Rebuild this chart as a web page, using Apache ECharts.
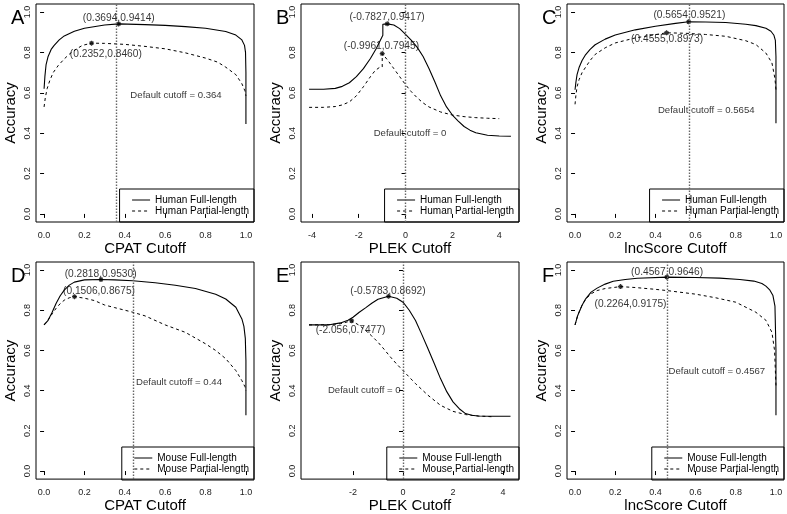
<!DOCTYPE html>
<html><head><meta charset="utf-8">
<script src="https://cdn.jsdelivr.net/npm/echarts@6/dist/echarts.min.js"></script>
<style>html,body{margin:0;padding:0;background:#fff}#c{width:787px;height:514px}</style>
</head><body><div id="c"></div>
<script>
// ---------- DATA ----------
// A: CPAT, human
const cpatHumanFullX = [0, 0.004, 0.01, 0.02, 0.035, 0.05, 0.075, 0.1, 0.15, 0.2, 0.3, 0.3694, 0.5, 0.6, 0.7, 0.8, 0.9, 0.95, 0.98, 0.993, 0.998, 1.0, 1.0];
const cpatHumanFullY = [0.62, 0.68, 0.74, 0.78, 0.815, 0.835, 0.862, 0.882, 0.905, 0.92, 0.936, 0.9414, 0.938, 0.934, 0.928, 0.92, 0.904, 0.886, 0.862, 0.835, 0.80, 0.70, 0.446];
const cpatHumanPartX = [0, 0.006, 0.015, 0.028, 0.045, 0.07, 0.1, 0.127, 0.16, 0.19, 0.2352, 0.3, 0.4, 0.5, 0.6, 0.7, 0.8, 0.86, 0.9, 0.95, 0.98, 0.995, 1.0];
const cpatHumanPartY = [0.53, 0.575, 0.62, 0.66, 0.70, 0.735, 0.768, 0.793, 0.817, 0.835, 0.846, 0.845, 0.84, 0.83, 0.818, 0.798, 0.772, 0.752, 0.727, 0.69, 0.645, 0.61, 0.585];
// B: PLEK, human
const plekHumanFullX = [-4.12, -3.5, -3.0, -2.7, -2.4, -2.1, -1.8, -1.5, -1.25, -0.97, -0.97, -0.7827, -0.5, -0.25, 0, 0.25, 0.5, 0.75, 1.0, 1.25, 1.5, 1.75, 2.0, 2.25, 2.5, 2.75, 3.0, 3.5, 4.0, 4.5];
const plekHumanFullY = [0.618, 0.618, 0.622, 0.632, 0.65, 0.68, 0.72, 0.77, 0.82, 0.885, 0.94, 0.9417, 0.936, 0.918, 0.89, 0.86, 0.825, 0.78, 0.72, 0.655, 0.585, 0.53, 0.49, 0.46, 0.433, 0.415, 0.402, 0.39, 0.386, 0.385];
const plekHumanPartX = [-4.12, -3.5, -3.0, -2.7, -2.4, -2.1, -1.8, -1.5, -1.3, -1.1, -0.9961, -0.9961, -0.75, -0.5, -0.25, 0, 0.25, 0.5, 0.75, 1.0, 1.5, 2.0, 2.5, 3.0, 3.5, 4.0];
const plekHumanPartY = [0.528, 0.528, 0.532, 0.54, 0.555, 0.585, 0.63, 0.68, 0.71, 0.727, 0.728, 0.7945, 0.76, 0.72, 0.68, 0.64, 0.605, 0.575, 0.55, 0.53, 0.505, 0.49, 0.482, 0.477, 0.474, 0.472];
// C: lncScore, human
const lncHumanFullX = [0, 0.004, 0.01, 0.02, 0.035, 0.05, 0.075, 0.1, 0.15, 0.2, 0.3, 0.4, 0.5, 0.5654, 0.65, 0.75, 0.85, 0.9, 0.95, 0.975, 0.99, 0.997, 1.0, 1.0];
const lncHumanFullY = [0.615, 0.65, 0.69, 0.725, 0.76, 0.785, 0.815, 0.838, 0.866, 0.886, 0.912, 0.93, 0.944, 0.9521, 0.951, 0.948, 0.94, 0.933, 0.92, 0.905, 0.885, 0.86, 0.78, 0.449];
const lncHumanPartX = [0, 0.004, 0.01, 0.02, 0.035, 0.05, 0.075, 0.1, 0.15, 0.2, 0.3, 0.4555, 0.55, 0.65, 0.75, 0.85, 0.9, 0.95, 0.98, 0.995, 1.0];
const lncHumanPartY = [0.543, 0.585, 0.63, 0.665, 0.70, 0.723, 0.76, 0.79, 0.823, 0.847, 0.872, 0.8973, 0.895, 0.889, 0.88, 0.858, 0.839, 0.797, 0.748, 0.67, 0.615];
// D: CPAT, mouse
const cpatMouseFullX = [0, 0.02, 0.04, 0.06, 0.08, 0.1, 0.125, 0.15, 0.2, 0.2818, 0.35, 0.44, 0.55, 0.65, 0.75, 0.85, 0.9, 0.95, 0.98, 0.99, 0.997, 1.0, 1.0];
const cpatMouseFullY = [0.727, 0.75, 0.79, 0.835, 0.872, 0.9, 0.925, 0.94, 0.951, 0.953, 0.951, 0.947, 0.937, 0.924, 0.908, 0.88, 0.856, 0.815, 0.757, 0.72, 0.66, 0.55, 0.278];
const cpatMousePartX = [0, 0.02, 0.04, 0.06, 0.08, 0.1, 0.125, 0.1506, 0.2, 0.25, 0.3, 0.35, 0.44, 0.5, 0.6, 0.7, 0.8, 0.85, 0.9, 0.95, 0.98, 0.995, 1.0];
const cpatMousePartY = [0.727, 0.752, 0.782, 0.81, 0.833, 0.85, 0.862, 0.8675, 0.86, 0.848, 0.826, 0.813, 0.79, 0.772, 0.727, 0.69, 0.633, 0.60, 0.559, 0.50, 0.45, 0.42, 0.40];
// E: PLEK, mouse
const plekMouseFullX = [-3.76, -3.0, -2.5, -2.2, -2.0, -1.75, -1.5, -1.25, -1.0, -0.5783, -0.25, 0, 0.25, 0.5, 0.75, 1.0, 1.25, 1.5, 1.75, 2.0, 2.25, 2.5, 2.75, 3.0, 3.5, 4.3];
const plekMouseFullY = [0.727, 0.727, 0.737, 0.75, 0.765, 0.79, 0.812, 0.835, 0.855, 0.8692, 0.86, 0.84, 0.80, 0.749, 0.68, 0.608, 0.535, 0.46, 0.395, 0.344, 0.31, 0.286, 0.278, 0.274, 0.273, 0.273];
const plekMousePartX = [-3.76, -3.0, -2.5, -2.056, -1.75, -1.5, -1.25, -1.0, -0.75, -0.5, -0.25, 0, 0.5, 1.0, 1.5, 2.0, 2.5, 3.0, 3.6];
const plekMousePartY = [0.727, 0.728, 0.733, 0.7477, 0.725, 0.70, 0.672, 0.641, 0.605, 0.567, 0.532, 0.50, 0.435, 0.377, 0.327, 0.297, 0.281, 0.274, 0.27];
// F: lncScore, mouse
const lncMouseFullX = [0, 0.005, 0.012, 0.02, 0.035, 0.053, 0.08, 0.11, 0.15, 0.19, 0.25, 0.31, 0.4567, 0.6, 0.72, 0.82, 0.89, 0.93, 0.95, 0.97, 0.985, 0.995, 1.0, 1.0];
const lncMouseFullY = [0.727, 0.745, 0.77, 0.79, 0.825, 0.857, 0.89, 0.91, 0.93, 0.944, 0.953, 0.959, 0.9646, 0.963, 0.96, 0.953, 0.945, 0.933, 0.92, 0.9, 0.873, 0.82, 0.6, 0.278];
const lncMousePartX = [0, 0.005, 0.012, 0.02, 0.035, 0.053, 0.08, 0.11, 0.15, 0.2264, 0.3, 0.4, 0.4567, 0.6, 0.7, 0.8, 0.9, 0.95, 0.98, 0.993, 1.0];
const lncMousePartY = [0.727, 0.745, 0.77, 0.79, 0.825, 0.855, 0.882, 0.898, 0.908, 0.9175, 0.913, 0.904, 0.898, 0.88, 0.862, 0.84, 0.79, 0.75, 0.69, 0.60, 0.426];

// peaks [x, y] and their labels
const peaksFull = [[0.3694, 0.9414], [-0.7827, 0.9417], [0.5654, 0.9521], [0.2818, 0.9530], [-0.5783, 0.8692], [0.4567, 0.9646]];
const peaksPart = [[0.2352, 0.8460], [-0.9961, 0.7945], [0.4555, 0.8973], [0.1506, 0.8675], [-2.056, 0.7477], [0.2264, 0.9175]];
const peakLabelsFull = ['(0.3694,0.9414)', '(-0.7827,0.9417)', '(0.5654,0.9521)', '(0.2818,0.9530)', '(-0.5783,0.8692)', '(0.4567,0.9646)'];
const peakLabelsPart = ['(0.2352,0.8460)', '(-0.9961,0.7945)', '(0.4555,0.8973)', '(0.1506,0.8675)', '(-2.056,0.7477)', '(0.2264,0.9175)'];
const defaultCutoffs = [0.364, 0, 0.5654, 0.44, 0, 0.4567];
const cutoffLabels = ['Default cutoff = 0.364', 'Default cutoff = 0', 'Default cutoff = 0.5654', 'Default cutoff = 0.44', 'Default cutoff = 0', 'Default cutoff = 0.4567'];
const panelLetters = ['A', 'B', 'C', 'D', 'E', 'F'];
const xTitles = ['CPAT Cutoff', 'PLEK Cutoff', 'lncScore Cutoff', 'CPAT Cutoff', 'PLEK Cutoff', 'lncScore Cutoff'];
const seriesNamesFull = ['Human Full-length', 'Human Full-length', 'Human Full-length', 'Mouse Full-length', 'Mouse Full-length', 'Mouse Full-length'];
const seriesNamesPart = ['Human Partial-length', 'Human Partial-length', 'Human Partial-length', 'Mouse Partial-length', 'Mouse Partial-length', 'Mouse Partial-length'];
const yTicks = [0, 0.2, 0.4, 0.6, 0.8, 1.0];
const unitTicks = [0, 0.2, 0.4, 0.6, 0.8, 1.0];
const plekTicksB = [-4, -2, 0, 2, 4];
const plekTicksE = [-2, 0, 2, 4];

// ---------- LAYOUT ----------
const FONT = '"Liberation Sans", Arial, sans-serif';
const W = 787, H = 514;
const boxes = [[36, 4, 218, 218], [301, 4, 218, 218], [567, 4, 217, 218], [36, 262, 218, 218], [301, 262, 218, 218], [567, 262, 217, 218]];
const xRanges = [[-0.04, 1.04], [-4.465, 4.845], [-0.04, 1.04], [-0.04, 1.04], [-4.08, 4.64], [-0.04, 1.04]];
const xTickSets = [unitTicks, plekTicksB, unitTicks, unitTicks, plekTicksE, unitTicks];
const xDecimals = [1, 0, 1, 1, 0, 1];
const curves = [
  [cpatHumanFullX, cpatHumanFullY, cpatHumanPartX, cpatHumanPartY],
  [plekHumanFullX, plekHumanFullY, plekHumanPartX, plekHumanPartY],
  [lncHumanFullX, lncHumanFullY, lncHumanPartX, lncHumanPartY],
  [cpatMouseFullX, cpatMouseFullY, cpatMousePartX, cpatMousePartY],
  [plekMouseFullX, plekMouseFullY, plekMousePartX, plekMousePartY],
  [lncMouseFullX, lncMouseFullY, lncMousePartX, lncMousePartY]
];
// label anchors in data coordinates: [fullLabel, partLabel, cutoffLabel, cutoffAlign]
const labelAnchors = [
  [[0.37, 0.97], [0.306, 0.79], [0.425, 0.587], 'left'],
  [[-0.79, 0.975], [-1.03, 0.83], [0.19, 0.40], 'center'],
  [[0.569, 0.985], [0.458, 0.864], [0.41, 0.515], 'left'],
  [[0.28, 0.98], [0.272, 0.893], [0.453, 0.443], 'left'],
  [[-0.6, 0.894], [-2.1, 0.70], [-1.55, 0.40], 'center'],
  [[0.458, 0.99], [0.276, 0.83], [0.463, 0.496], 'left']
];

const zip = (xs, ys) => xs.map((x, i) => [x, ys[i]]);
const STAR = 'path://M5,0L5,10M0,5L10,5M1.5,1.5L8.5,8.5M1.5,8.5L8.5,1.5';

const grid = [], xAxis = [], yAxis = [], series = [], legend = [], title = [];
boxes.forEach((b, i) => {
  grid.push({ left: b[0], top: b[1], width: b[2], height: b[3], show: true, borderColor: '#000', borderWidth: 1, backgroundColor: 'transparent' });
  xAxis.push({
    gridIndex: i, type: 'value', min: xRanges[i][0], max: xRanges[i][1],
    name: xTitles[i], nameLocation: 'middle', nameGap: 18,
    nameTextStyle: { fontFamily: FONT, fontSize: 15, color: '#000' },
    axisLine: { show: false }, splitLine: { show: false },
    axisTick: { show: true, length: 4, lineStyle: { color: '#000' }, customValues: xTickSets[i] },
    axisLabel: { fontFamily: FONT, fontSize: 9, color: '#222', margin: 9, customValues: xTickSets[i],
      formatter: v => Number(v).toFixed(xDecimals[i]) }
  });
  yAxis.push({
    gridIndex: i, type: 'value', min: -0.04, max: 1.04,
    name: 'Accuracy', nameLocation: 'middle', nameGap: 18,
    nameTextStyle: { fontFamily: FONT, fontSize: 15, color: '#000' },
    axisLine: { show: false }, splitLine: { show: false },
    axisTick: { show: true, length: 4, lineStyle: { color: '#000' }, customValues: yTicks },
    axisLabel: { fontFamily: FONT, fontSize: 9, color: '#222', rotate: 90, margin: 4, customValues: yTicks,
      formatter: v => Number(v).toFixed(1) }
  });
  const c = curves[i];
  series.push({
    type: 'line', name: seriesNamesFull[i], xAxisIndex: i, yAxisIndex: i, data: zip(c[0], c[1]),
    symbol: 'none', smooth: false, lineStyle: { color: '#000', width: 1.1, type: 'solid' }, itemStyle: { color: '#000' },
    silent: true, animation: false,
    markLine: { silent: true, symbol: 'none', animation: false, label: { show: false },
      lineStyle: { color: '#666', type: [1.5, 1.5], width: 1.4 }, data: [{ xAxis: defaultCutoffs[i] }] }
  });
  series.push({
    type: 'line', name: seriesNamesPart[i], xAxisIndex: i, yAxisIndex: i, data: zip(c[2], c[3]),
    symbol: 'none', smooth: false, lineStyle: { color: '#000', width: 1, type: [3, 3] }, itemStyle: { color: '#000' },
    silent: true, animation: false
  });
  series.push({
    type: 'scatter', xAxisIndex: i, yAxisIndex: i, data: [peaksFull[i], peaksPart[i]],
    symbol: STAR, symbolSize: 5, itemStyle: { color: 'rgba(0,0,0,0)', borderColor: '#000', borderWidth: 1.2 },
    silent: true, animation: false
  });
  const a = labelAnchors[i];
  const lab = (txt, pos, fs) => ({ show: true, formatter: txt, position: pos, distance: 0, fontFamily: FONT, fontSize: fs, color: '#000' });
  series.push({
    type: 'scatter', xAxisIndex: i, yAxisIndex: i, symbolSize: 1, itemStyle: { color: 'rgba(0,0,0,0)' },
    silent: true, animation: false,
    data: [
      { value: a[0], label: lab(peakLabelsFull[i], 'inside', 10.2) },
      { value: a[1], label: lab(peakLabelsPart[i], 'inside', 10.2) },
      { value: a[2], label: lab(cutoffLabels[i], a[3] === 'left' ? 'right' : 'inside', 9.6) }
    ]
  });
  legend.push({
    orient: 'vertical', right: W - (b[0] + b[2]), bottom: H - (b[1] + b[3]),
    borderColor: '#000', borderWidth: 1, padding: [6, 5, 6, 12], itemGap: 1,
    itemWidth: 18, itemHeight: 10, selectedMode: false,
    itemStyle: { opacity: 0 },
    lineStyle: { width: 1 },
    textStyle: { fontFamily: FONT, fontSize: 10, color: '#000' },
    data: [seriesNamesFull[i], seriesNamesPart[i]]
  });
  title.push({ text: panelLetters[i], left: b[0] - 30, top: b[1] - 1,
    textStyle: { fontFamily: FONT, fontSize: 20, fontWeight: 'normal', color: '#000' } });
});

const chart = echarts.init(document.getElementById('c'), null, { renderer: 'canvas' });
chart.setOption({ backgroundColor: '#fff', animation: false, title, grid, xAxis, yAxis, series, legend });
</script>
</body></html>
